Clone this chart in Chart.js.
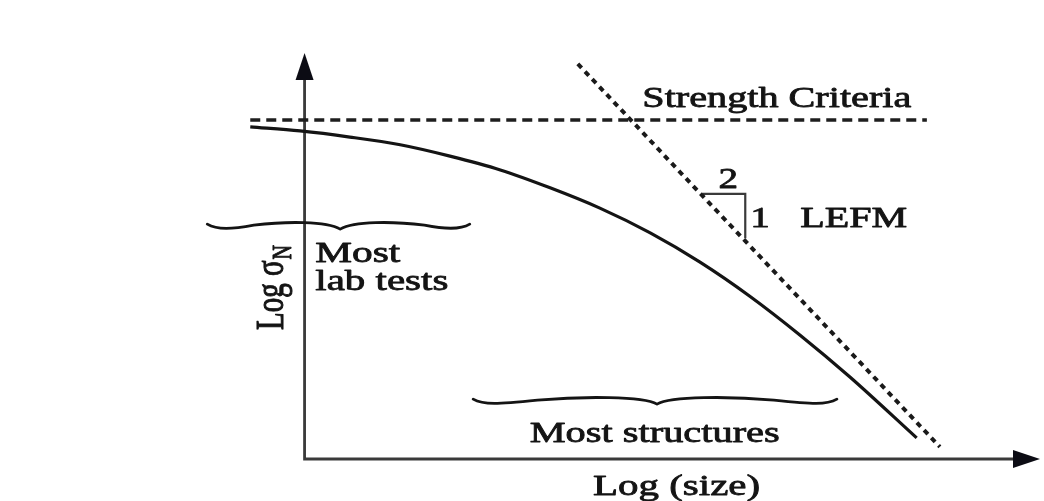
<!DOCTYPE html>
<html>
<head>
<meta charset="utf-8">
<title>Size effect</title>
<script src="https://cdn.jsdelivr.net/npm/chart.js@4/dist/chart.umd.min.js"></script>
<style>
  html, body { margin: 0; padding: 0; background: #ffffff; }
  #wrap { width: 1044px; height: 501px; position: relative; }
</style>
</head>
<body>
<div id="wrap"><canvas id="c"></canvas></div>
<script>
// Size-effect diagram: nominal strength against structure size, both in log units.

// Size-effect curve (log size, log nominal strength)
const logSize     = [-0.96, -0.08, 0.80, 1.69, 2.57, 3.46, 4.34, 5.22, 6.11, 6.99, 7.87, 8.76, 9.64, 10.82];
const logStrength = [ 8.18,  8.08, 7.93, 7.74, 7.46, 7.12, 6.68, 6.18, 5.57, 4.85, 4.01, 3.05, 2.02,  0.52];

// Strength criterion: size-independent horizontal asymptote
const strengthX = [-0.96, 11.0];
const strengthY = [8.35, 8.35];

// LEFM asymptote, slope -1/2
const lefmX = [4.83, 11.23];
const lefmY = [9.73, 0.30];

// Slope marker "2 / 1" sitting on the LEFM line
const slopeX = [7.04, 7.79, 7.79];
const slopeY = [6.53, 6.53, 5.44];

// Size ranges marked with braces: [from, to, cusp, level]
const labRange       = [-1.72, 2.92, 0.63, 5.76];
const structureRange = [ 2.98, 9.41, 6.23, 1.45];

// Axis extents
const xMin = -1, xMax = 13;
const yMin = 0,  yMax = 10;

// Text labels: [text, x, baseline y, fitted width in px]
const labels = [
  ['Strength Criteria', 5.97, 8.67, 269],
  ['LEFM',              8.76, 5.71, 107],
  ['Most',              0.19, 4.85, 85],
  ['lab tests',         0.19, 4.16, 133],
  ['Most structures',   3.98, 0.42, 250],
  ['Log (size)',        5.10, -0.89, 167]
];
const slopeRun  = ['2', 7.49, 6.67];
const slopeRise = ['1', 8.05, 5.71];
const yTitle    = ['Log \u03c3', 'N'];

const SERIF = '"Liberation Serif", "Times New Roman", serif';
const INK = '#141414';

function line(points, color, width, dash) {
  return {
    data: points,
    showLine: true,
    borderColor: color,
    borderWidth: width,
    borderDash: dash || [],
    borderCapStyle: 'butt',
    pointRadius: 0,
    fill: false,
    clip: false
  };
}

const zip = (xs, ys) => xs.map((x, i) => ({ x: x, y: ys[i] }));

// Filled glyphs with a thin outline, for the heavy print look
function ink(ctx, text, x, y) {
  ctx.fillText(text, x, y);
  ctx.strokeText(text, x, y);
}

// Text fitted to a given width (the figure is set wide)
function fitText(ctx, text, x, y, width, size) {
  ctx.save();
  ctx.font = size + 'px ' + SERIF;
  ctx.textBaseline = 'alphabetic';
  ctx.textAlign = 'left';
  const w = ctx.measureText(text).width;
  ctx.translate(x, y);
  ctx.scale(width / w, 1);
  ink(ctx, text, 0, 0);
  ctx.restore();
}

function drawBrace(ctx, x0, x1, xm, y) {
  ctx.save();
  ctx.strokeStyle = INK;
  ctx.lineWidth = 2.8;
  ctx.lineCap = 'round';
  ctx.lineJoin = 'round';
  ctx.beginPath();
  // left arm
  ctx.moveTo(x0, y - 1);
  ctx.bezierCurveTo(x0 + 10, y + 5, x0 + 25, y + 4, x0 + (xm - x0) * 0.35, y);
  ctx.bezierCurveTo(x0 + (xm - x0) * 0.6, y - 4, xm - 14, y - 4, xm, y + 4);
  // right arm
  ctx.bezierCurveTo(xm + 14, y - 4, xm + (x1 - xm) * 0.4, y - 4, xm + (x1 - xm) * 0.65, y);
  ctx.bezierCurveTo(x1 - 25, y + 4, x1 - 10, y + 5, x1, y - 1);
  ctx.stroke();
  ctx.restore();
}

const annotate = {
  id: 'annotate',
  beforeDatasetsDraw(chart) {
    const ctx = chart.ctx;
    const sx = chart.scales.x, sy = chart.scales.y;
    const ox = sx.getPixelForValue(0), oy = sy.getPixelForValue(0);
    const top = sy.getPixelForValue(yMax), right = sx.getPixelForValue(xMax);
    ctx.save();
    ctx.strokeStyle = '#3a3a3a';
    ctx.lineWidth = 2.8;
    ctx.beginPath();
    ctx.moveTo(ox, oy + 1.4);
    ctx.lineTo(ox, top + 20);
    ctx.moveTo(ox - 1.4, oy);
    ctx.lineTo(right - 20, oy);
    ctx.stroke();
    // arrowheads
    ctx.fillStyle = '#0c0c14';
    ctx.beginPath();
    ctx.moveTo(ox, top);
    ctx.lineTo(ox + 9, top + 27);
    ctx.lineTo(ox - 9, top + 27);
    ctx.closePath();
    ctx.fill();
    ctx.beginPath();
    ctx.moveTo(right, oy);
    ctx.lineTo(right - 27, oy - 9);
    ctx.lineTo(right - 27, oy + 9);
    ctx.closePath();
    ctx.fill();
    ctx.restore();
  },
  afterDatasetsDraw(chart) {
    const ctx = chart.ctx;
    const sx = chart.scales.x, sy = chart.scales.y;
    const px = v => sx.getPixelForValue(v), py = v => sy.getPixelForValue(v);

    drawBrace(ctx, px(labRange[0]), px(labRange[1]), px(labRange[2]), py(labRange[3]));
    drawBrace(ctx, px(structureRange[0]), px(structureRange[1]), px(structureRange[2]), py(structureRange[3]));

    ctx.save();
    ctx.fillStyle = INK;
    ctx.strokeStyle = INK;
    ctx.lineWidth = 0.8;
    ctx.lineJoin = 'round';
    labels.forEach(([t, x, y, w]) => fitText(ctx, t, px(x), py(y), w, 29));

    ctx.font = '29px ' + SERIF;
    ctx.textAlign = 'center';
    ctx.save();
    ctx.translate(px(slopeRun[1]), py(slopeRun[2]));
    ctx.scale(1.35, 1);
    ink(ctx, slopeRun[0], 0, 0);
    ctx.restore();
    ctx.save();
    ctx.translate(px(slopeRise[1]), py(slopeRise[2]));
    ctx.scale(1.35, 1);
    ink(ctx, slopeRise[0], 0, 0);
    ctx.restore();

    // rotated y-axis title with subscript
    ctx.save();
    ctx.translate(px(-0.38), 330);
    ctx.scale(1.35, 1);
    ctx.rotate(-Math.PI / 2);
    ctx.textAlign = 'left';
    ctx.font = '29px ' + SERIF;
    ink(ctx, yTitle[0], 0, 0);
    const w = ctx.measureText(yTitle[0]).width;
    ctx.font = '20px ' + SERIF;
    ink(ctx, yTitle[1], w + 1, 6);
    ctx.restore();
    ctx.restore();
  }
};

function build() {
  const curveSet = line(zip(logSize, logStrength), INK, 3.2);
  curveSet.cubicInterpolationMode = 'monotone';
  new Chart(document.getElementById('c'), {
    type: 'scatter',
    data: {
      datasets: [
        line(zip(strengthX, strengthY), '#1e1e1e', 3.4, [10, 6]),
        line(zip(lefmX, lefmY), '#1a1a1a', 4, [5.5, 5]),
        line(zip(slopeX, slopeY), '#3a3a3a', 2.2),
        curveSet
      ]
    },
    options: {
      responsive: true,
      maintainAspectRatio: false,
      animation: false,
      events: [],
      layout: { padding: { left: 248, right: 4, top: 53, bottom: 42 } },
      scales: {
        x: { type: 'linear', min: xMin, max: xMax, display: false },
        y: { type: 'linear', min: yMin, max: yMax, display: false }
      },
      plugins: {
        legend: { display: false },
        tooltip: { enabled: false }
      }
    },
    plugins: [annotate]
  });
}

if (document.fonts && document.fonts.load) {
  Promise.all([
    document.fonts.load('29px "Liberation Serif"'),
    document.fonts.load('20px "Liberation Serif"')
  ]).then(build, build);
} else {
  build();
}
</script>
</body>
</html>
